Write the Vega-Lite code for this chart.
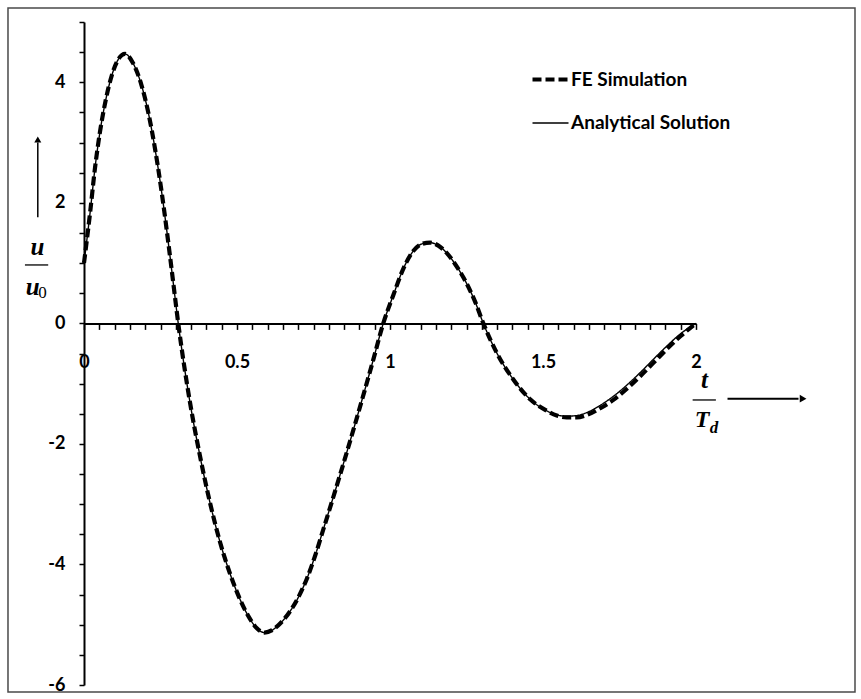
{
  "$schema": "https://vega.github.io/schema/vega-lite/v6.json",
  "width": 612,
  "height": 663,
  "autosize": {"type": "none"},
  "padding": {"left": 84, "top": 22, "right": 165, "bottom": 14},
  "background": "white",
  "config": {"view": {"stroke": null}, "font": "Lato"},
  "resolve": {"axis": {"x": "independent", "y": "independent"}},
  "data": {
    "values": [
      {"t": 0.000, "u": 1.00, "series": "FE Simulation"},
      {"t": 0.020, "u": 1.84, "series": "FE Simulation"},
      {"t": 0.036, "u": 2.58, "series": "FE Simulation"},
      {"t": 0.052, "u": 3.17, "series": "FE Simulation"},
      {"t": 0.070, "u": 3.68, "series": "FE Simulation"},
      {"t": 0.090, "u": 4.10, "series": "FE Simulation"},
      {"t": 0.112, "u": 4.38, "series": "FE Simulation"},
      {"t": 0.134, "u": 4.47, "series": "FE Simulation"},
      {"t": 0.160, "u": 4.32, "series": "FE Simulation"},
      {"t": 0.188, "u": 3.95, "series": "FE Simulation"},
      {"t": 0.210, "u": 3.50, "series": "FE Simulation"},
      {"t": 0.232, "u": 2.90, "series": "FE Simulation"},
      {"t": 0.254, "u": 2.17, "series": "FE Simulation"},
      {"t": 0.276, "u": 1.32, "series": "FE Simulation"},
      {"t": 0.292, "u": 0.66, "series": "FE Simulation"},
      {"t": 0.308, "u": 0.00, "series": "FE Simulation"},
      {"t": 0.346, "u": -1.30, "series": "FE Simulation"},
      {"t": 0.379, "u": -2.20, "series": "FE Simulation"},
      {"t": 0.412, "u": -2.98, "series": "FE Simulation"},
      {"t": 0.444, "u": -3.62, "series": "FE Simulation"},
      {"t": 0.477, "u": -4.15, "series": "FE Simulation"},
      {"t": 0.510, "u": -4.58, "series": "FE Simulation"},
      {"t": 0.542, "u": -4.90, "series": "FE Simulation"},
      {"t": 0.565, "u": -5.06, "series": "FE Simulation"},
      {"t": 0.590, "u": -5.13, "series": "FE Simulation"},
      {"t": 0.615, "u": -5.09, "series": "FE Simulation"},
      {"t": 0.641, "u": -4.98, "series": "FE Simulation"},
      {"t": 0.673, "u": -4.78, "series": "FE Simulation"},
      {"t": 0.700, "u": -4.55, "series": "FE Simulation"},
      {"t": 0.728, "u": -4.24, "series": "FE Simulation"},
      {"t": 0.755, "u": -3.86, "series": "FE Simulation"},
      {"t": 0.782, "u": -3.42, "series": "FE Simulation"},
      {"t": 0.810, "u": -2.96, "series": "FE Simulation"},
      {"t": 0.837, "u": -2.51, "series": "FE Simulation"},
      {"t": 0.864, "u": -2.05, "series": "FE Simulation"},
      {"t": 0.891, "u": -1.58, "series": "FE Simulation"},
      {"t": 0.918, "u": -1.10, "series": "FE Simulation"},
      {"t": 0.945, "u": -0.61, "series": "FE Simulation"},
      {"t": 0.978, "u": 0.00, "series": "FE Simulation"},
      {"t": 1.011, "u": 0.47, "series": "FE Simulation"},
      {"t": 1.043, "u": 0.90, "series": "FE Simulation"},
      {"t": 1.076, "u": 1.20, "series": "FE Simulation"},
      {"t": 1.105, "u": 1.32, "series": "FE Simulation"},
      {"t": 1.131, "u": 1.34, "series": "FE Simulation"},
      {"t": 1.158, "u": 1.29, "series": "FE Simulation"},
      {"t": 1.185, "u": 1.17, "series": "FE Simulation"},
      {"t": 1.212, "u": 0.99, "series": "FE Simulation"},
      {"t": 1.240, "u": 0.76, "series": "FE Simulation"},
      {"t": 1.278, "u": 0.36, "series": "FE Simulation"},
      {"t": 1.305, "u": 0.00, "series": "FE Simulation"},
      {"t": 1.349, "u": -0.49, "series": "FE Simulation"},
      {"t": 1.403, "u": -0.93, "series": "FE Simulation"},
      {"t": 1.458, "u": -1.26, "series": "FE Simulation"},
      {"t": 1.512, "u": -1.45, "series": "FE Simulation"},
      {"t": 1.545, "u": -1.53, "series": "FE Simulation"},
      {"t": 1.577, "u": -1.56, "series": "FE Simulation"},
      {"t": 1.610, "u": -1.56, "series": "FE Simulation"},
      {"t": 1.643, "u": -1.52, "series": "FE Simulation"},
      {"t": 1.690, "u": -1.40, "series": "FE Simulation"},
      {"t": 1.730, "u": -1.27, "series": "FE Simulation"},
      {"t": 1.775, "u": -1.08, "series": "FE Simulation"},
      {"t": 1.817, "u": -0.88, "series": "FE Simulation"},
      {"t": 1.860, "u": -0.66, "series": "FE Simulation"},
      {"t": 1.904, "u": -0.43, "series": "FE Simulation"},
      {"t": 1.950, "u": -0.21, "series": "FE Simulation"},
      {"t": 2.000, "u": 0.00, "series": "FE Simulation"},

      {"t": 0.000, "u": 1.00, "series": "Analytical Solution"},
      {"t": 0.020, "u": 1.84, "series": "Analytical Solution"},
      {"t": 0.036, "u": 2.58, "series": "Analytical Solution"},
      {"t": 0.052, "u": 3.17, "series": "Analytical Solution"},
      {"t": 0.070, "u": 3.68, "series": "Analytical Solution"},
      {"t": 0.090, "u": 4.10, "series": "Analytical Solution"},
      {"t": 0.112, "u": 4.38, "series": "Analytical Solution"},
      {"t": 0.134, "u": 4.47, "series": "Analytical Solution"},
      {"t": 0.160, "u": 4.32, "series": "Analytical Solution"},
      {"t": 0.188, "u": 3.95, "series": "Analytical Solution"},
      {"t": 0.210, "u": 3.50, "series": "Analytical Solution"},
      {"t": 0.232, "u": 2.90, "series": "Analytical Solution"},
      {"t": 0.254, "u": 2.17, "series": "Analytical Solution"},
      {"t": 0.276, "u": 1.32, "series": "Analytical Solution"},
      {"t": 0.292, "u": 0.66, "series": "Analytical Solution"},
      {"t": 0.308, "u": 0.00, "series": "Analytical Solution"},
      {"t": 0.346, "u": -1.30, "series": "Analytical Solution"},
      {"t": 0.379, "u": -2.20, "series": "Analytical Solution"},
      {"t": 0.412, "u": -2.98, "series": "Analytical Solution"},
      {"t": 0.444, "u": -3.62, "series": "Analytical Solution"},
      {"t": 0.477, "u": -4.15, "series": "Analytical Solution"},
      {"t": 0.510, "u": -4.58, "series": "Analytical Solution"},
      {"t": 0.542, "u": -4.90, "series": "Analytical Solution"},
      {"t": 0.565, "u": -5.06, "series": "Analytical Solution"},
      {"t": 0.590, "u": -5.13, "series": "Analytical Solution"},
      {"t": 0.615, "u": -5.09, "series": "Analytical Solution"},
      {"t": 0.641, "u": -4.98, "series": "Analytical Solution"},
      {"t": 0.673, "u": -4.78, "series": "Analytical Solution"},
      {"t": 0.700, "u": -4.55, "series": "Analytical Solution"},
      {"t": 0.728, "u": -4.24, "series": "Analytical Solution"},
      {"t": 0.755, "u": -3.86, "series": "Analytical Solution"},
      {"t": 0.782, "u": -3.42, "series": "Analytical Solution"},
      {"t": 0.810, "u": -2.96, "series": "Analytical Solution"},
      {"t": 0.837, "u": -2.51, "series": "Analytical Solution"},
      {"t": 0.864, "u": -2.05, "series": "Analytical Solution"},
      {"t": 0.891, "u": -1.58, "series": "Analytical Solution"},
      {"t": 0.918, "u": -1.10, "series": "Analytical Solution"},
      {"t": 0.945, "u": -0.61, "series": "Analytical Solution"},
      {"t": 0.978, "u": 0.00, "series": "Analytical Solution"},
      {"t": 1.011, "u": 0.47, "series": "Analytical Solution"},
      {"t": 1.043, "u": 0.90, "series": "Analytical Solution"},
      {"t": 1.076, "u": 1.20, "series": "Analytical Solution"},
      {"t": 1.105, "u": 1.32, "series": "Analytical Solution"},
      {"t": 1.131, "u": 1.34, "series": "Analytical Solution"},
      {"t": 1.158, "u": 1.29, "series": "Analytical Solution"},
      {"t": 1.185, "u": 1.17, "series": "Analytical Solution"},
      {"t": 1.212, "u": 0.99, "series": "Analytical Solution"},
      {"t": 1.240, "u": 0.76, "series": "Analytical Solution"},
      {"t": 1.278, "u": 0.36, "series": "Analytical Solution"},
      {"t": 1.305, "u": 0.00, "series": "Analytical Solution"},
      {"t": 1.349, "u": -0.49, "series": "Analytical Solution"},
      {"t": 1.403, "u": -0.93, "series": "Analytical Solution"},
      {"t": 1.458, "u": -1.26, "series": "Analytical Solution"},
      {"t": 1.512, "u": -1.45, "series": "Analytical Solution"},
      {"t": 1.545, "u": -1.52, "series": "Analytical Solution"},
      {"t": 1.577, "u": -1.54, "series": "Analytical Solution"},
      {"t": 1.610, "u": -1.53, "series": "Analytical Solution"},
      {"t": 1.643, "u": -1.48, "series": "Analytical Solution"},
      {"t": 1.690, "u": -1.35, "series": "Analytical Solution"},
      {"t": 1.730, "u": -1.21, "series": "Analytical Solution"},
      {"t": 1.775, "u": -1.02, "series": "Analytical Solution"},
      {"t": 1.817, "u": -0.82, "series": "Analytical Solution"},
      {"t": 1.860, "u": -0.60, "series": "Analytical Solution"},
      {"t": 1.904, "u": -0.38, "series": "Analytical Solution"},
      {"t": 1.950, "u": -0.17, "series": "Analytical Solution"},
      {"t": 2.000, "u": 0.00, "series": "Analytical Solution"}
    ]
  },
  "layer": [
    {
      "mark": {"type": "line", "interpolate": "monotone", "color": "black", "strokeCap": "butt"},
      "encoding": {
        "x": {
          "field": "t",
          "type": "quantitative",
          "scale": {"domain": [0, 2], "nice": false, "zero": false},
          "axis": {
            "orient": "bottom",
            "offset": -361.6,
            "title": null,
            "grid": false,
            "values": [0, 0.05, 0.1, 0.15, 0.2, 0.25, 0.3, 0.35, 0.4, 0.45, 0.5, 0.55, 0.6, 0.65, 0.7, 0.75, 0.8, 0.85, 0.9, 0.95, 1, 1.05, 1.1, 1.15, 1.2, 1.25, 1.3, 1.35, 1.4, 1.45, 1.5, 1.55, 1.6, 1.65, 1.7, 1.75, 1.8, 1.85, 1.9, 1.95, 2],
            "format": ".2~f",
            "labelExpr": "abs(datum.value * 2 - round(datum.value * 2)) < 0.001 ? datum.label : ''",
            "labelOverlap": false,
            "labelFlush": false,
            "labelFont": "Lato",
            "labelFontSize": 18,
            "labelFontWeight": "bold",
            "labelColor": "black",
            "labelBaseline": "alphabetic",
            "labelPadding": 37.6,
            "tickSize": 6,
            "tickColor": "black",
            "tickWidth": 1.5,
            "domainColor": "black",
            "domainWidth": 2
          }
        },
        "y": {
          "field": "u",
          "type": "quantitative",
          "scale": {"domain": [-6, 5], "nice": false, "zero": false},
          "axis": {
            "orient": "left",
            "title": null,
            "grid": false,
            "values": [-6, -5.5, -5, -4.5, -4, -3.5, -3, -2.5, -2, -1.5, -1, -0.5, 0, 0.5, 1, 1.5, 2, 2.5, 3, 3.5, 4, 4.5, 5],
            "labelExpr": "datum.value % 2 === 0 ? toString(datum.value) : ''",
            "labelOverlap": false,
            "labelFlush": false,
            "labelFont": "Lato",
            "labelFontSize": 18,
            "labelFontWeight": "bold",
            "labelColor": "black",
            "labelPadding": 14,
            "tickSize": 5,
            "tickColor": "black",
            "tickWidth": 1.5,
            "domainColor": "black",
            "domainWidth": 2
          }
        },
        "strokeDash": {
          "field": "series",
          "type": "ordinal",
          "scale": {"domain": ["FE Simulation", "Analytical Solution"], "range": [[9, 4], [1, 0]]},
          "legend": {
            "title": null,
            "orient": "none",
            "legendX": 446,
            "legendY": 37,
            "symbolType": "stroke",
            "symbolSize": 1296,
            "symbolStrokeColor": "black",
            "labelFont": "Lato",
            "labelFontSize": 19,
            "labelFontWeight": "bold",
            "labelColor": "black",
            "labelOffset": 0,
            "labelLimit": 300,
            "rowPadding": 14
          }
        },
        "strokeWidth": {
          "field": "series",
          "type": "ordinal",
          "scale": {"domain": ["FE Simulation", "Analytical Solution"], "range": [4.2, 1.4]},
          "legend": {
            "title": null,
            "orient": "none",
            "legendX": 446,
            "legendY": 37,
            "symbolType": "stroke",
            "symbolSize": 1296,
            "symbolStrokeColor": "black",
            "labelFont": "Lato",
            "labelFontSize": 19,
            "labelFontWeight": "bold",
            "labelColor": "black",
            "labelOffset": 0,
            "labelLimit": 300,
            "rowPadding": 14
          }
        }
      }
    },
    {
      "data": {"values": [{}]},
      "mark": {"type": "rect", "fillOpacity": 0, "stroke": "#4a4a4a", "strokeWidth": 1.5},
      "encoding": {
        "x": {"datum": -0.2484, "axis": null},
        "x2": {"datum": 2.5196},
        "y": {"datum": 5.233, "axis": null},
        "y2": {"datum": -6.116}
      }
    },
    {
      "data": {"values": [{}]},
      "mark": {"type": "rule", "color": "black", "strokeWidth": 1.5},
      "encoding": {"x": {"datum": -0.151, "axis": null}, "y": {"datum": 1.76, "axis": null}, "y2": {"datum": 3.0}}
    },
    {
      "data": {"values": [{}]},
      "mark": {"type": "point", "shape": "triangle-up", "filled": true, "color": "black", "opacity": 1, "size": 50},
      "encoding": {"x": {"datum": -0.151, "axis": null}, "y": {"datum": 3.05, "axis": null}}
    },
    {
      "data": {"values": [{}]},
      "mark": {"type": "rule", "color": "black", "strokeWidth": 2},
      "encoding": {"x": {"datum": 2.103, "axis": null}, "x2": {"datum": 2.335}, "y": {"datum": -1.249, "axis": null}}
    },
    {
      "data": {"values": [{}]},
      "mark": {"type": "point", "shape": "triangle-right", "filled": true, "color": "black", "opacity": 1, "size": 60},
      "encoding": {"x": {"datum": 2.35, "axis": null}, "y": {"datum": -1.249, "axis": null}}
    },
    {
      "data": {"values": [{}]},
      "mark": {"type": "text", "text": "u", "font": "Liberation Serif", "fontStyle": "italic", "fontWeight": "bold", "fontSize": 25, "align": "center", "baseline": "alphabetic", "color": "black"},
      "encoding": {"x": {"datum": -0.152, "axis": null}, "y": {"datum": 1.135, "axis": null}}
    },
    {
      "data": {"values": [{}]},
      "mark": {"type": "rule", "color": "black", "strokeWidth": 1.3},
      "encoding": {"x": {"datum": -0.193, "axis": null}, "x2": {"datum": -0.117}, "y": {"datum": 0.969, "axis": null}}
    },
    {
      "data": {"values": [{}]},
      "mark": {"type": "text", "text": "u", "font": "Liberation Serif", "fontStyle": "italic", "fontWeight": "bold", "fontSize": 25, "align": "center", "baseline": "alphabetic", "color": "black"},
      "encoding": {"x": {"datum": -0.168, "axis": null}, "y": {"datum": 0.471, "axis": null}}
    },
    {
      "data": {"values": [{}]},
      "mark": {"type": "text", "text": "0", "font": "Liberation Serif", "fontSize": 17, "align": "center", "baseline": "alphabetic", "color": "black"},
      "encoding": {"x": {"datum": -0.136, "axis": null}, "y": {"datum": 0.416, "axis": null}}
    },
    {
      "data": {"values": [{}]},
      "mark": {"type": "text", "text": "t", "font": "Liberation Serif", "fontStyle": "italic", "fontWeight": "bold", "fontSize": 25, "align": "center", "baseline": "alphabetic", "color": "black"},
      "encoding": {"x": {"datum": 2.028, "axis": null}, "y": {"datum": -1.072, "axis": null}}
    },
    {
      "data": {"values": [{}]},
      "mark": {"type": "rule", "color": "black", "strokeWidth": 1.3},
      "encoding": {"x": {"datum": 1.989, "axis": null}, "x2": {"datum": 2.065}, "y": {"datum": -1.271, "axis": null}}
    },
    {
      "data": {"values": [{}]},
      "mark": {"type": "text", "text": "T", "font": "Liberation Serif", "fontStyle": "italic", "fontWeight": "bold", "fontSize": 24, "align": "center", "baseline": "alphabetic", "color": "black"},
      "encoding": {"x": {"datum": 2.02, "axis": null}, "y": {"datum": -1.719, "axis": null}}
    },
    {
      "data": {"values": [{}]},
      "mark": {"type": "text", "text": "d", "font": "Liberation Serif", "fontStyle": "italic", "fontWeight": "bold", "fontSize": 17, "align": "center", "baseline": "alphabetic", "color": "black"},
      "encoding": {"x": {"datum": 2.059, "axis": null}, "y": {"datum": -1.818, "axis": null}}
    }
  ]
}
